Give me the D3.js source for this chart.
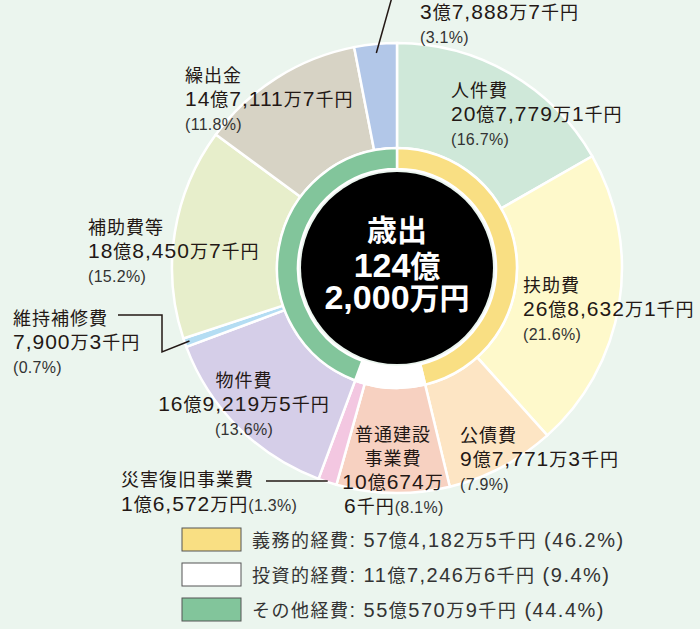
<!DOCTYPE html>
<html>
<head>
<meta charset="utf-8">
<script src="https://cdn.jsdelivr.net/npm/d3@7"></script>
<style>
  html, body { margin: 0; padding: 0; background: #ebf5ee; }
  svg { display: block; }
</style>
</head>
<body>
<svg id="chart" width="700" height="629"></svg>
<script>
// 歳出 内訳 (単位: 千円)
const categories = ['人件費', '扶助費', '公債費', '普通建設事業費', '災害復旧事業費', '物件費', '維持補修費', '補助費等', '繰出金', '積立金'];
const values = [2077791, 2686321, 977713, 1006746, 165720, 1692195, 79003, 1884507, 1471117, 378887];
const percents = [16.7, 21.6, 7.9, 8.1, 1.3, 13.6, 0.7, 15.2, 11.8, 3.1];
const sliceColors = ['#cfe8d9', '#fef9cb', '#fde5c4', '#f7d1c1', '#f3c7e1', '#d5cee8', '#b4ddf3', '#e7eecb', '#d7d3c5', '#b2c7e8'];

// 性質別 グループ
const groups = ['義務的経費', '投資的経費', 'その他経費'];
const groupValues = [5741825, 1172466, 5505709];
const groupPercents = [46.2, 9.4, 44.4];
const groupColors = ['#f9df83', '#ffffff', '#82c59b'];

const svg = d3.select('#chart');
const CX = 397, CY = 268;
const NUM_FONT = '"Liberation Sans", Arial, sans-serif';
const JP_FONT = '"Noto Sans CJK JP", sans-serif';
const INK = '#231815';

// 千円単位 -> "20億7,779万1千円"
function yen(v) {
  const oku = Math.floor(v / 100000);
  const man = Math.floor((v % 100000) / 10);
  const sen = v % 10;
  let s = '';
  if (oku) s += oku + '億';
  if (man) s += d3.format(',')(man) + '万';
  if (sen) s += sen + '千';
  return s + '円';
}

// ascii と和文でフォントを分ける
function rich(text, str, numSize, jpSize) {
  str.split(/([\u0020-\u007e]+)/).filter(s => s).forEach(s => {
    const ascii = /^[\u0020-\u007e]+$/.test(s);
    text.append('tspan')
      .text(s)
      .attr('font-family', ascii ? NUM_FONT : JP_FONT)
      .attr('font-size', ascii ? numSize : jpSize);
  });
  return text;
}

const g = svg.append('g').attr('transform', `translate(${CX},${CY})`);

const pie = d3.pie().sort(null).value(d => d);
const outerArc = d3.arc().innerRadius(120).outerRadius(225);
const innerArc = d3.arc().innerRadius(99).outerRadius(120);

const slices = pie(values);
g.selectAll('path.outer')
  .data(slices)
  .join('path')
  .attr('class', 'outer')
  .attr('d', outerArc)
  .attr('fill', (d, i) => sliceColors[i])
  .attr('stroke', '#fff')
  .attr('stroke-width', 2.5);

g.selectAll('path.inner')
  .data(pie(groupValues))
  .join('path')
  .attr('class', 'inner')
  .attr('d', innerArc)
  .attr('fill', (d, i) => groupColors[i])
  .attr('stroke', '#fff')
  .attr('stroke-width', 2.5);

g.append('circle').attr('r', 96).attr('fill', '#000');

// 中央の合計
const total = d3.sum(values);
const totalOku = Math.floor(total / 100000);
const centerLines = ['歳出', totalOku + '億', yen(total - totalOku * 100000)];
const centerY = [-27, 9, 41];
centerLines.forEach((s, k) => {
  const t = g.append('text')
    .attr('x', 0).attr('y', centerY[k])
    .attr('text-anchor', 'middle')
    .attr('fill', '#fff')
    .attr('font-weight', 'bold');
  rich(t, s, 34, 30);
});

// ラベル配置
const labelPos = {
  '人件費': { x: 451, y: 97 },
  '扶助費': { x: 523, y: 292 },
  '公債費': { x: 460, y: 442 },
  '物件費': { x: 244, y: 387, anchor: 'middle' },
  '維持補修費': { x: 13, y: 325 },
  '補助費等': { x: 88, y: 234 },
  '繰出金': { x: 185, y: 82 },
  '積立金': { x: 420, y: -5 }
};
const LINE = [0, 23.5, 48];

categories.forEach((name, i) => {
  const p = labelPos[name];
  if (!p) return;
  const rows = [[name, 18, 18], [yen(values[i]), 21, 18], [`(${percents[i]}%)`, 16, 16]];
  rows.forEach((r, k) => {
    const t = svg.append('text')
      .attr('x', p.x).attr('y', p.y + LINE[k])
      .attr('text-anchor', p.anchor || 'start')
      .attr('fill', k === 2 ? '#333' : INK)
      .attr('letter-spacing', k === 2 ? 0.3 : 1);
    rich(t, r[0], r[1], r[2]);
  });
});

// 普通建設事業費 (折り返し)
{
  const i = categories.indexOf('普通建設事業費');
  const amt = yen(values[i]);
  const cut = amt.indexOf('万') + 1;
  [['普通建設', 441], ['事業費', 465], [amt.slice(0, cut), 489]].forEach(r => {
    const t = svg.append('text')
      .attr('x', 393).attr('y', r[1])
      .attr('text-anchor', 'middle')
      .attr('fill', INK)
      .attr('letter-spacing', 1);
    rich(t, r[0], 21, 18);
  });
  const t = svg.append('text').attr('x', 344).attr('y', 513).attr('fill', INK).attr('letter-spacing', 1);
  rich(t, amt.slice(cut), 21, 18);
  t.append('tspan').text(`(${percents[i]}%)`).attr('font-family', NUM_FONT).attr('font-size', 16).attr('fill', '#333').attr('letter-spacing', 0.3);
}

// 災害復旧事業費
{
  const i = categories.indexOf('災害復旧事業費');
  const t1 = svg.append('text').attr('x', 121).attr('y', 486).attr('fill', INK).attr('letter-spacing', 1);
  rich(t1, categories[i], 18, 18);
  const t2 = svg.append('text').attr('x', 121).attr('y', 511).attr('fill', INK).attr('letter-spacing', 1);
  rich(t2, yen(values[i]), 21, 18);
  t2.append('tspan').text(`(${percents[i]}%)`).attr('font-family', NUM_FONT).attr('font-size', 16).attr('fill', '#333').attr('letter-spacing', 0.3);
}

// 引き出し線
function arcPoint(d, r) {
  const a = (d.startAngle + d.endAngle) / 2;
  return [CX + r * Math.sin(a), CY - r * Math.cos(a)];
}
const line = d3.line();
const leaderStyle = s => s.attr('fill', 'none').attr('stroke', INK).attr('stroke-width', 1.5);

const pIji = arcPoint(slices[categories.indexOf('維持補修費')], 220);
svg.append('path').attr('d', line([[118, 315], [162, 315], [162, 352], pIji])).call(leaderStyle);

const pSai = arcPoint(slices[categories.indexOf('災害復旧事業費')], 224);
svg.append('path').attr('d', line([[266, pSai[1]], pSai])).call(leaderStyle);

const pTsumi = arcPoint(slices[categories.indexOf('積立金')], 216);
svg.append('path').attr('d', line([pTsumi, [394, -10]])).call(leaderStyle);

// 凡例
const legend = svg.append('g').attr('transform', 'translate(182,528)');
groups.forEach((name, i) => {
  const row = legend.append('g').attr('transform', `translate(0,${i * 35})`);
  row.append('rect')
    .attr('width', 59).attr('height', 23)
    .attr('fill', groupColors[i])
    .attr('stroke', '#555').attr('stroke-width', 1);
  const t = row.append('text').attr('x', 70).attr('y', 19).attr('fill', '#333').attr('letter-spacing', 1.5);
  rich(t, `${name}: ${yen(groupValues[i])} (${groupPercents[i]}%)`, 20, 18);
});
</script>
</body>
</html>
